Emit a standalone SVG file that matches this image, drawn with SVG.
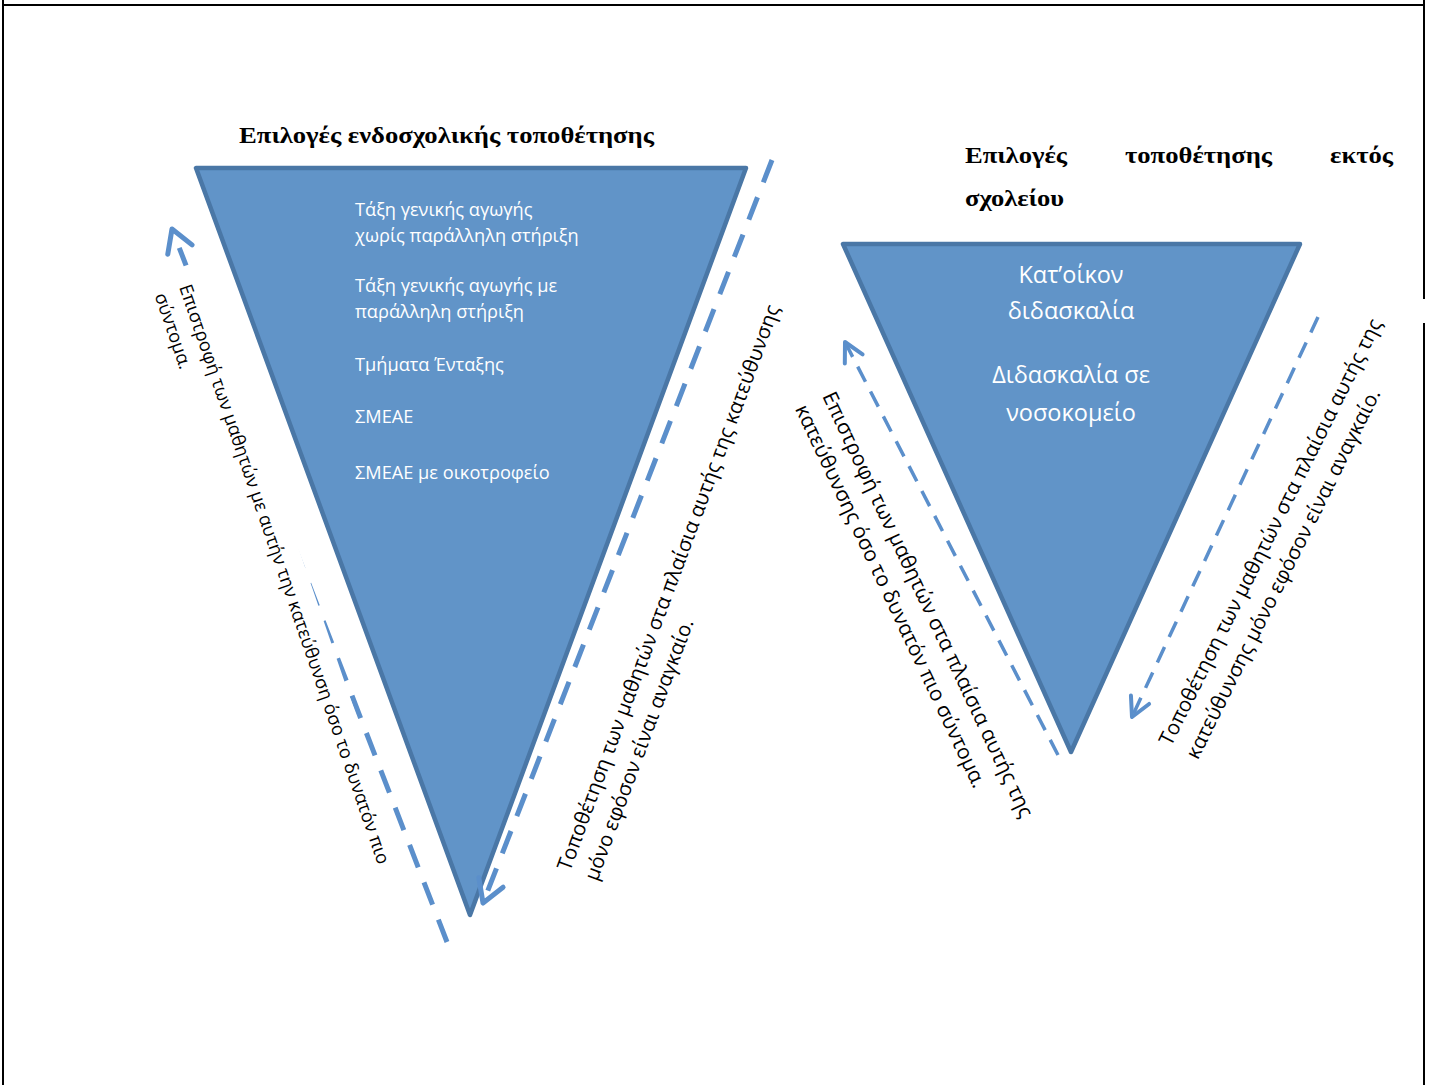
<svg xmlns="http://www.w3.org/2000/svg" width="1430" height="1085" viewBox="0 0 1430 1085">
  <style>
    .frame { stroke: #000; stroke-width: 2; fill: none; }
    .title { font-family: "Liberation Serif", "Times New Roman", serif; font-weight: bold; font-size: 24px; fill: #000; }
    .tri { fill: #6194c8; stroke: #4a77a6; stroke-width: 4.5; stroke-linejoin: round; }
    .inner { font-family: "Open Sans", "Noto Sans", sans-serif; fill: #fff; }
    .side { font-family: "Open Sans", "Noto Sans", sans-serif; fill: #000; }
    .flow-wide { fill: none; stroke: #5b8fcb; stroke-width: 5; stroke-dasharray: 24 16; }
    .flow-thin { fill: none; stroke: #5b8fcb; stroke-width: 3.5; stroke-dasharray: 17 11; }
  </style>
  <defs>
    <marker id="chevron-wide" markerUnits="userSpaceOnUse" markerWidth="60" markerHeight="60" viewBox="-30 -30 60 60" refX="0" refY="0" orient="auto">
      <path d="M -22 -13 L 0 0 L -22 13" fill="none" stroke="#5b8fcb" stroke-width="5" stroke-linecap="round" stroke-linejoin="round"/>
    </marker>
    <marker id="chevron-thin" markerUnits="userSpaceOnUse" markerWidth="60" markerHeight="60" viewBox="-30 -30 60 60" refX="0" refY="0" orient="auto">
      <path d="M -19 -10 L 0 0 L -19 10" fill="none" stroke="#5b8fcb" stroke-width="4" stroke-linecap="round" stroke-linejoin="round"/>
    </marker>
  </defs>

  <!-- page frame -->
  <g id="frame">
    <line class="frame" x1="3" y1="5" x2="1424" y2="5"/>
    <line class="frame" x1="3" y1="0" x2="3" y2="1085"/>
    <line class="frame" x1="1424" y1="0" x2="1424" y2="299"/>
    <line class="frame" x1="1424" y1="323" x2="1424" y2="1085"/>
  </g>

  <!-- headings -->
  <g id="title-in-school">
    <text class="title" x="239" y="143" textLength="415" lengthAdjust="spacingAndGlyphs">Επιλογές ενδοσχολικής τοποθέτησης</text>
  </g>
  <g id="title-out-of-school">
    <text class="title" x="965" y="163" textLength="102" lengthAdjust="spacingAndGlyphs">Επιλογές</text>
    <text class="title" x="1125" y="163" textLength="147" lengthAdjust="spacingAndGlyphs">τοποθέτησης</text>
    <text class="title" x="1330" y="163" textLength="63" lengthAdjust="spacingAndGlyphs">εκτός</text>
    <text class="title" x="965" y="206" textLength="99" lengthAdjust="spacingAndGlyphs">σχολείου</text>
  </g>

  <!-- in-school placement funnel -->
  <g id="funnel-in-school">
    <polygon class="tri" points="196,168 746,168 470,915"/>
    <g class="inner" font-size="18.2">
      <text x="355" y="216">Τάξη γενικής αγωγής</text>
      <text x="355" y="242">χωρίς παράλληλη στήριξη</text>
      <text x="355" y="292">Τάξη γενικής αγωγής με</text>
      <text x="355" y="318">παράλληλη στήριξη</text>
      <text x="355" y="371">Τμήματα Ένταξης</text>
      <text x="355" y="423">ΣΜΕΑΕ</text>
      <text x="355" y="479">ΣΜΕΑΕ με οικοτροφείο</text>
    </g>
  </g>

  <!-- out-of-school placement funnel -->
  <g id="funnel-out-of-school">
    <polygon class="tri" points="843,244 1300,244 1071,752"/>
    <g class="inner" font-size="23.5" text-anchor="middle">
      <text x="1071" y="283">Κατ’οίκον</text>
      <text x="1071" y="319">διδασκαλία</text>
      <text x="1071" y="383">Διδασκαλία σε</text>
      <text x="1071" y="421">νοσοκομείο</text>
    </g>
  </g>

  <!-- direction arrows -->
  <g id="connectors">
    <path class="flow-wide" d="M 447 942 L 172 229" marker-end="url(#chevron-wide)"/>
    <path class="flow-wide" d="M 772 160 L 483 903" marker-end="url(#chevron-wide)"/>
    <path class="flow-thin" d="M 1058 755 L 845 342" marker-end="url(#chevron-thin)"/>
    <path class="flow-thin" d="M 1318 317 L 1132 717" marker-end="url(#chevron-thin)"/>
  </g>

  <!-- arrow captions -->
  <g id="caption-return-in-school" transform="translate(179 287) rotate(71)">
    <rect x="-18" y="-28" width="660" height="63" fill="#fff"/>
    <text class="side" font-size="18.3"><tspan x="0" y="0">Επιστροφή των μαθητών με αυτήν την κατεύθυνση όσο το δυνατόν πιο</tspan><tspan x="0" y="26">σύντομα.</tspan></text>
  </g>
  <g id="caption-placement-in-school" transform="translate(570 872) rotate(-69.6)">
    <text class="side" font-size="20.4"><tspan x="0" y="0">Τοποθέτηση των μαθητών στα πλαίσια αυτής της κατεύθυνσης</tspan><tspan x="0" y="29">μόνο εφόσον είναι αναγκαίο.</tspan></text>
  </g>
  <g id="caption-return-out-of-school" transform="translate(822 396) rotate(64.8)">
    <text class="side" font-size="20.8"><tspan x="0" y="0">Επιστροφή των μαθητών στα πλαίσια αυτής της</tspan><tspan x="0" y="30">κατεύθυνσης όσο το δυνατόν πιο σύντομα.</tspan></text>
  </g>
  <g id="caption-placement-out-of-school" transform="translate(1171 747) rotate(-63.5)">
    <text class="side" font-size="20.5"><tspan x="0" y="0">Τοποθέτηση των μαθητών στα πλαίσια αυτής της</tspan><tspan x="0" y="30">κατεύθυνσης μόνο εφόσον είναι αναγκαίο.</tspan></text>
  </g>
</svg>
